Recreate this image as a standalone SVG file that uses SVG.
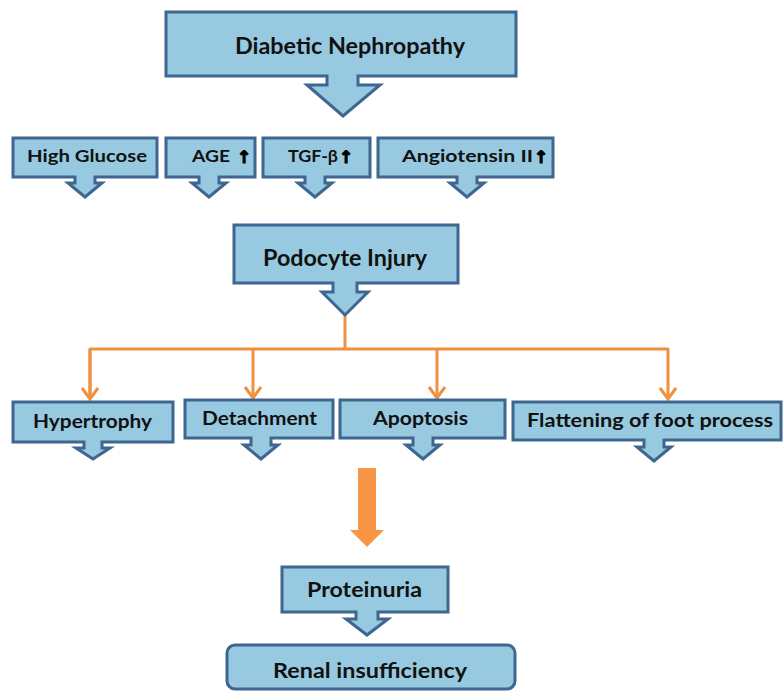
<svg xmlns="http://www.w3.org/2000/svg" width="783" height="691" viewBox="0 0 783 691">
<defs>
<style>
.box{fill:#97cae0;stroke:#3e6690;stroke-width:3;stroke-linejoin:miter}
.t{font-family:Lato,"Open Sans","Liberation Sans",sans-serif;font-weight:bold;fill:#111;text-anchor:start}
.up{font-family:"DejaVu Sans",sans-serif;font-weight:bold;fill:#000;stroke:#000;stroke-width:1.1;font-size:17px}
.con{fill:none;stroke:#f0913f;stroke-width:3;stroke-linejoin:round}
</style>
<marker id="oa" markerUnits="userSpaceOnUse" markerWidth="20" markerHeight="20" refX="15" refY="10" orient="auto" viewBox="0 0 20 20">
<path d="M4,2 L15,10 L4,18" fill="none" stroke="#f0913f" stroke-width="3" stroke-linejoin="miter"/>
</marker>
</defs>
<rect width="783" height="691" fill="#ffffff"/>

<g id="connectors">
<path class="con" d="M345,315 V349"/>
<path class="con" d="M90,399 V349 H668 V399" marker-end="url(#oa)"/>
<path class="con" d="M90,349 V399" marker-end="url(#oa)"/>
<path class="con" d="M253,349 V398" marker-end="url(#oa)"/>
<path class="con" d="M437,349 V398" marker-end="url(#oa)"/>
<path d="M358,468 H376 V530 H384 L367,547 L350,530 H358 Z" fill="#f79646"/>
</g>

<g id="diabetic-nephropathy">
<path class="box" d="M166,12 H516 V76 H358 V85 H380 L343,116 L307,85 H327 V76 H166 Z"/>
<text class="t" x="235" y="54" font-size="23" textLength="230" lengthAdjust="spacingAndGlyphs">Diabetic Nephropathy</text>
</g>

<g id="high-glucose">
<path class="box" d="M13,138 H157 V177 H95 V183 H102 L85,197 L68,183 H75 V177 H13 Z"/>
<text class="t" x="27" y="162" font-size="17" textLength="120" lengthAdjust="spacingAndGlyphs">High Glucose</text>
</g>

<g id="age">
<path class="box" d="M166,138 H255 V177 H219 V183 H226 L209,197 L192,183 H199 V177 H166 Z"/>
<text class="t" x="192" y="162" font-size="17" textLength="38" lengthAdjust="spacingAndGlyphs">AGE</text>
<text class="up" x="237" y="163">↑</text>
</g>

<g id="tgf-beta">
<path class="box" d="M263,138 H370 V177 H325 V183 H332 L315,197 L298,183 H305 V177 H263 Z"/>
<text class="t" x="288" y="162" font-size="17" textLength="50" lengthAdjust="spacingAndGlyphs">TGF-β</text>
<text class="up" x="339" y="163">↑</text>
</g>

<g id="angiotensin-ii">
<path class="box" d="M378,138 H553 V177 H477 V183 H484 L467,197 L450,183 H457 V177 H378 Z"/>
<text class="t" x="402" y="162" font-size="17" textLength="131" lengthAdjust="spacingAndGlyphs">Angiotensin II</text>
<text class="up" x="534" y="163">↑</text>
</g>

<g id="podocyte-injury">
<path class="box" d="M234,225 H458 V283 H357 V292 H368 L345,315 L322,292 H333 V283 H234 Z"/>
<text class="t" x="263" y="266" font-size="22" textLength="164" lengthAdjust="spacingAndGlyphs">Podocyte Injury</text>
</g>

<g id="hypertrophy">
<path class="box" d="M13,402 H173 V442 H102 V448 H110 L93,459 L76,448 H84 V442 H13 Z"/>
<text class="t" x="33" y="428" font-size="18" textLength="119" lengthAdjust="spacingAndGlyphs">Hypertrophy</text>
</g>

<g id="detachment">
<path class="box" d="M185,400 H333 V438 H271 V445 H278 L261,459 L244,445 H251 V438 H185 Z"/>
<text class="t" x="202" y="425" font-size="18" textLength="115" lengthAdjust="spacingAndGlyphs">Detachment</text>
</g>

<g id="apoptosis">
<path class="box" d="M340,400 H505 V438 H433 V445 H440 L423,459 L406,445 H413 V438 H340 Z"/>
<text class="t" x="373" y="425" font-size="18" textLength="95" lengthAdjust="spacingAndGlyphs">Apoptosis</text>
</g>

<g id="flattening">
<path class="box" d="M513,402 H781 V440 H664 V447 H671 L654,461 L637,447 H644 V440 H513 Z"/>
<text class="t" x="527" y="427" font-size="18" textLength="246" lengthAdjust="spacingAndGlyphs">Flattening of foot process</text>
</g>

<g id="proteinuria">
<path class="box" d="M282,567 H448 V612 H378 V619 H388 L367,635 L346,619 H356 V612 H282 Z"/>
<text class="t" x="307" y="597" font-size="20" textLength="115" lengthAdjust="spacingAndGlyphs">Proteinuria</text>
</g>

<g id="renal-insufficiency">
<rect class="box" x="227" y="645" width="288" height="44" rx="8" ry="8"/>
<text class="t" x="273" y="678" font-size="21" textLength="194" lengthAdjust="spacingAndGlyphs">Renal insufficiency</text>
</g>
</svg>
